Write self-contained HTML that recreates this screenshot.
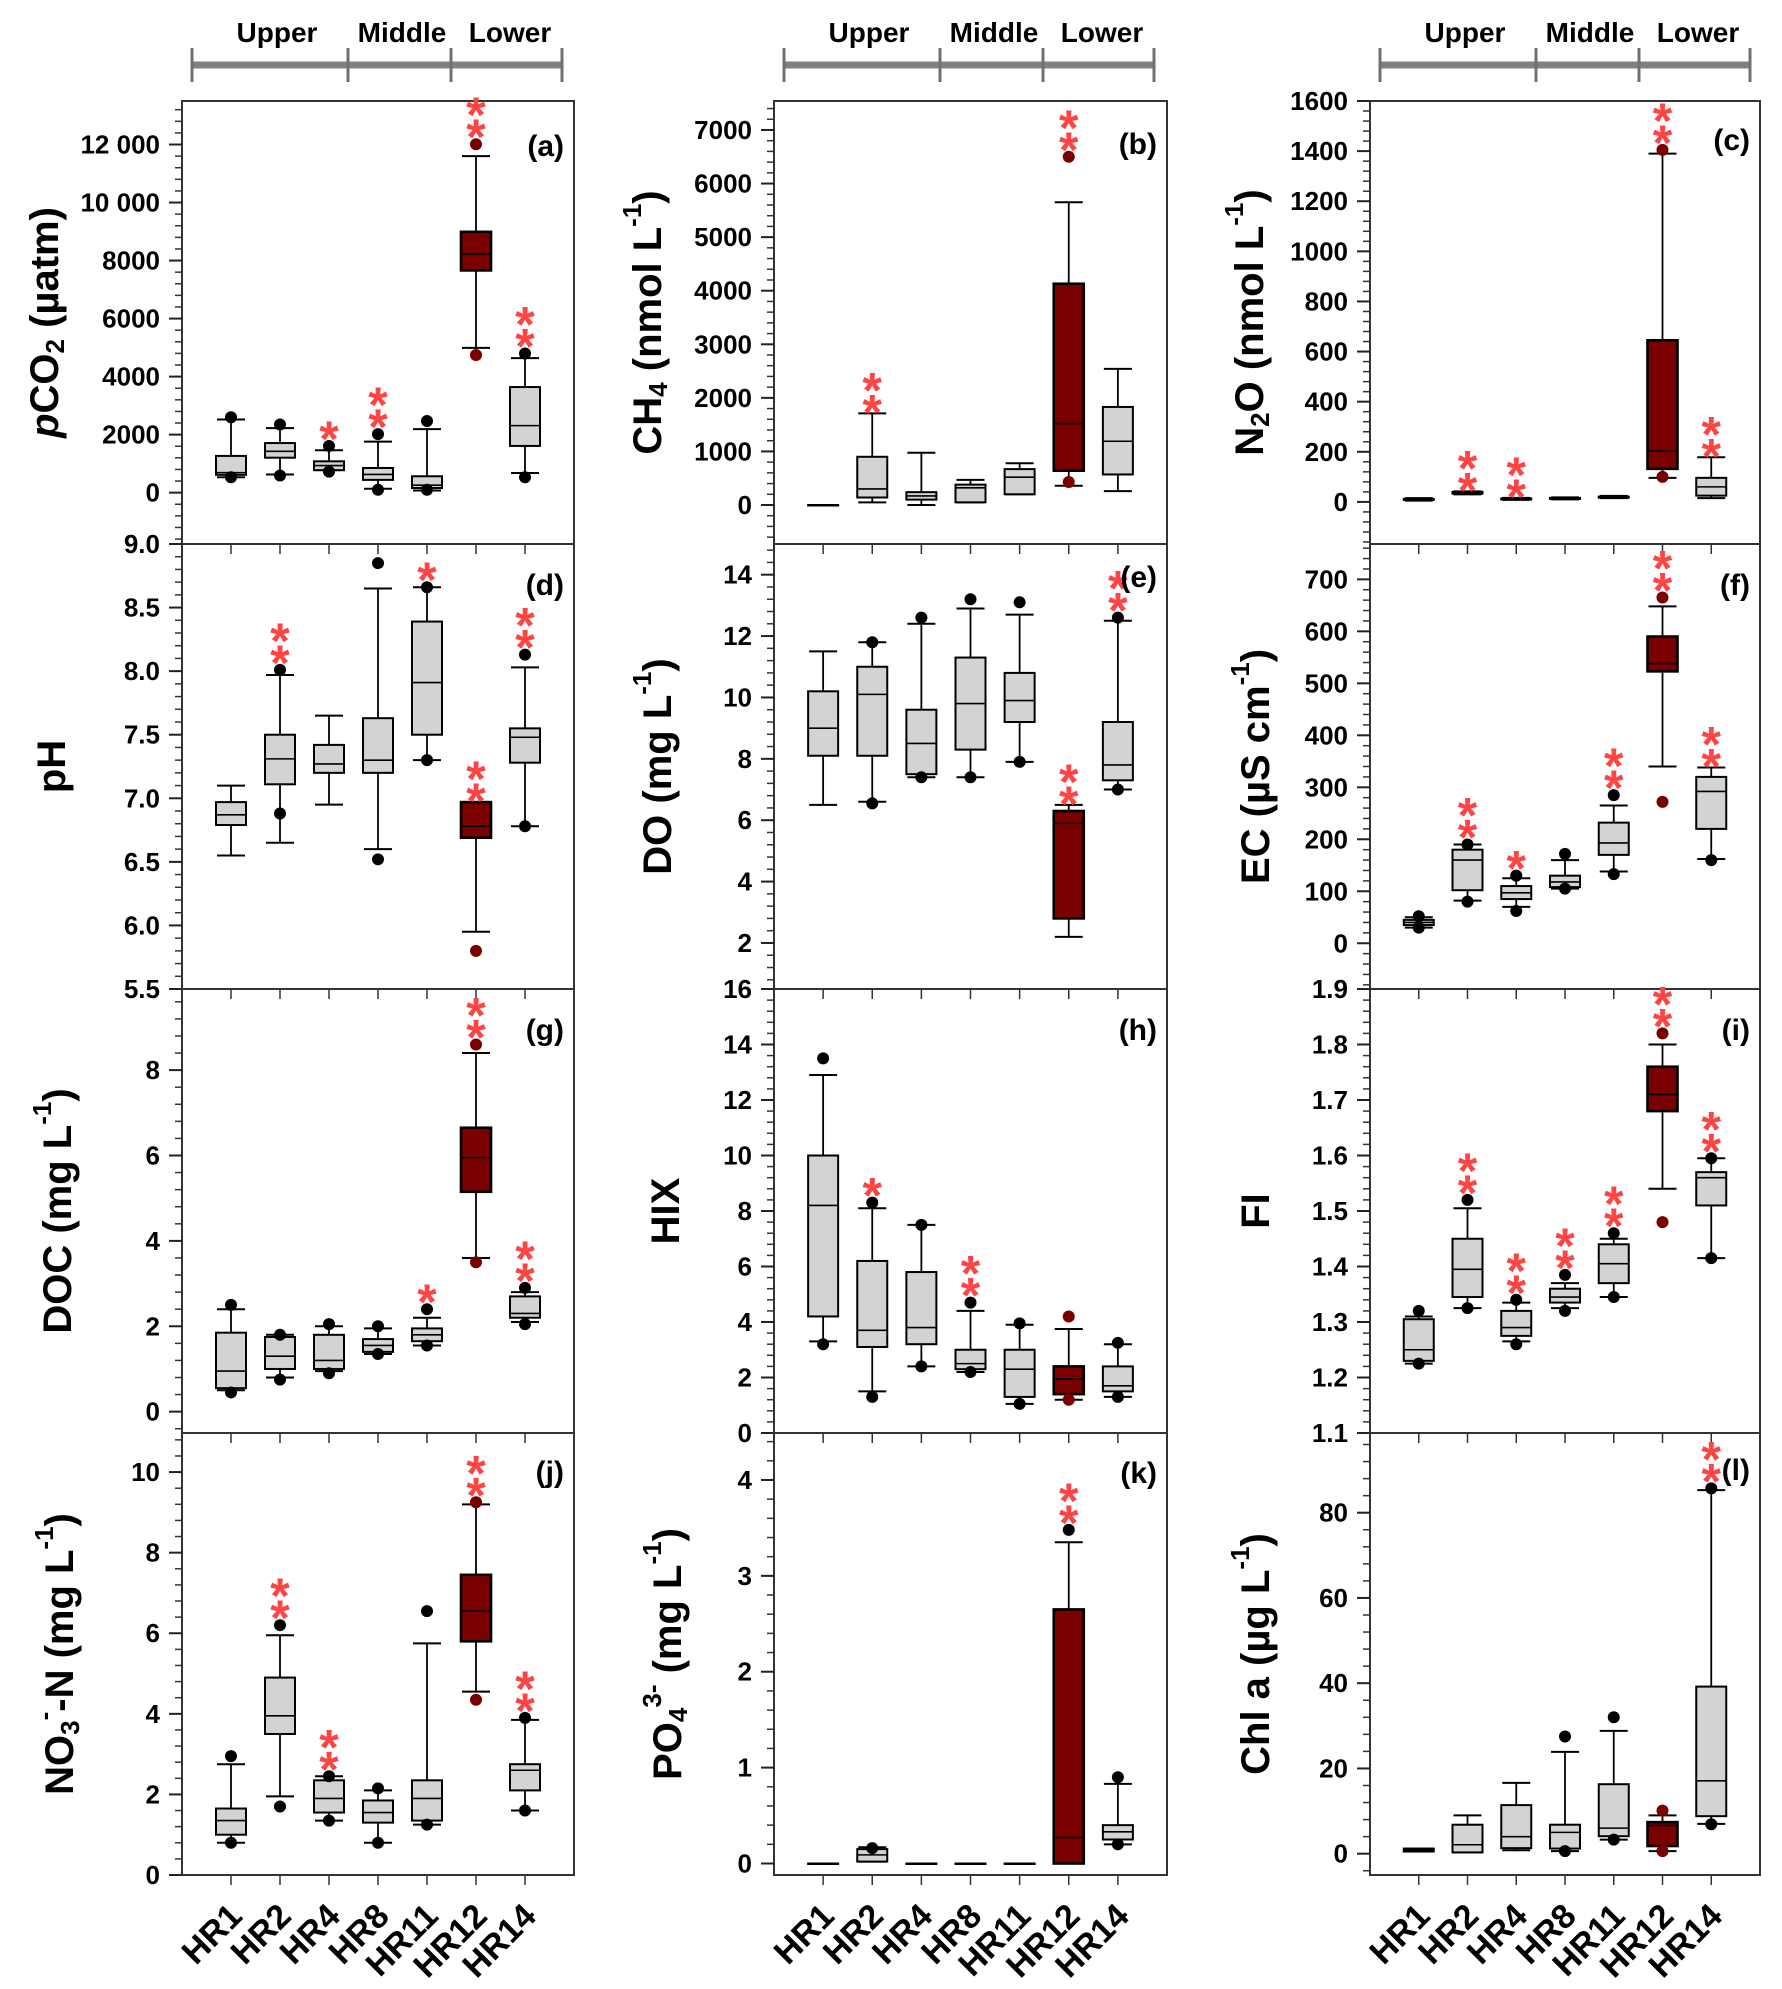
<!DOCTYPE html>
<html><head><meta charset="utf-8">
<style>
html,body{margin:0;padding:0;background:#fff;}
svg{display:block;font-family:"Liberation Sans",Arial,sans-serif;}
</style></head>
<body>
<svg id="fig" width="1782" height="1989" viewBox="0 0 1782 1989" xmlns="http://www.w3.org/2000/svg"></svg>
<script>
// ---------- categories ----------
const categories = ["HR1","HR2","HR4","HR8","HR11","HR12","HR14"];
// box stats per site: [whiskerLow, q1, median, q3, whiskerHigh]
const pco2Box = [[530,615,690,1266,2520],[627,1205,1426,1710,2225],[775,775,935,1080,1463],[135,440,627,850,1760],[74,160,258,565,2190],[4990,7660,8225,8990,11600],[676,1610,2310,3640,4635]];
const pco2Dots = [[2600,530],[2350,590],[1610,725],[2016,100],[2470,100],[12010,4745],[4795,530]];
const pco2Stars = [0,0,1,2,0,2,2];
const ch4Box = [[0,0,0,0,0],[50,140,300,900,1710],[0,100,170,240,975],[50,50,320,380,470],[200,200,520,670,780],[360,640,1520,4130,5650],[260,570,1190,1830,2540]];
const ch4Dots = [[],[],[],[],[],[6500,430],[]];
const ch4Stars = [0,2,0,0,0,2,0];
const n2oBox = [[5,8,10,12,15],[30,33,36,40,42],[8,10,12,14,16],[10,12,14,16,18],[15,17,19,21,24],[96,132,203,645,1390],[15,25,60,96,178]];
const n2oDots = [[],[],[],[],[],[1405,100],[]];
const n2oStars = [0,2,2,0,0,2,2];
const phBox = [[6.55,6.79,6.87,6.97,7.10],[6.65,7.11,7.31,7.50,7.97],[6.95,7.20,7.27,7.42,7.65],[6.60,7.20,7.30,7.63,8.65],[7.30,7.50,7.91,8.39,8.66],[5.95,6.69,6.78,6.97,6.97],[6.78,7.28,7.48,7.55,8.03]];
const phDots = [[],[8.01,6.88],[],[8.85,6.52],[8.66,7.30],[5.80],[8.13,6.78]];
const phStars = [0,2,0,0,1,2,2];
const doBox = [[6.5,8.1,9.0,10.2,11.5],[6.6,8.1,10.1,11.0,11.8],[7.4,7.5,8.5,9.6,12.4],[7.4,8.3,9.8,11.3,12.9],[7.9,9.2,9.9,10.8,12.7],[2.2,2.8,5.9,6.3,6.5],[7.0,7.3,7.8,9.2,12.5]];
const doDots = [[],[11.8,6.55],[12.6,7.4],[13.2,7.4],[13.1,7.9],[],[12.6,7.0]];
const doStars = [0,0,0,0,0,2,2];
const ecBox = [[30,35,40,45,50],[82,102,160,180,190],[70,85,97,110,125],[105,108,118,130,160],[138,170,193,232,265],[340,523,538,590,648],[162,220,292,320,338]];
const ecDots = [[52,30],[190,80],[130,62],[172,105],[285,133],[665,272],[160]];
const ecStars = [0,2,1,0,2,2,2];
const docBox = [[0.5,0.55,0.95,1.85,2.4],[0.8,1.0,1.3,1.75,1.8],[0.95,1.0,1.2,1.8,2.0],[1.35,1.4,1.55,1.7,1.95],[1.55,1.65,1.8,1.95,2.2],[3.6,5.15,5.95,6.65,8.4],[2.1,2.2,2.3,2.7,2.8]];
const docDots = [[2.5,0.45],[1.8,0.75],[2.05,0.9],[2.0,1.35],[2.4,1.55],[8.6,3.5],[2.9,2.05]];
const docStars = [0,0,0,0,1,2,2];
const hixBox = [[3.3,4.2,8.2,10.0,12.9],[1.5,3.1,3.7,6.2,8.1],[2.4,3.2,3.8,5.8,7.5],[2.2,2.3,2.5,3.0,4.4],[1.05,1.3,2.3,3.0,3.9],[1.2,1.4,1.95,2.4,3.75],[1.3,1.5,1.7,2.4,3.2]];
const hixDots = [[13.5,3.2],[8.3,1.3],[7.5,2.4],[4.7,2.2],[3.95,1.05],[4.2,1.2],[3.25,1.3]];
const hixStars = [0,1,0,2,0,0,0];
const fiBox = [[1.225,1.23,1.25,1.305,1.31],[1.325,1.345,1.395,1.45,1.505],[1.265,1.275,1.29,1.32,1.335],[1.325,1.335,1.345,1.36,1.37],[1.345,1.37,1.405,1.44,1.45],[1.54,1.68,1.71,1.76,1.80],[1.415,1.51,1.56,1.57,1.595]];
const fiDots = [[1.32,1.225],[1.52,1.325],[1.34,1.26],[1.385,1.32],[1.46,1.345],[1.82,1.48],[1.595,1.415]];
const fiStars = [0,2,2,2,2,2,2];
const no3Box = [[0.8,1.0,1.35,1.65,2.75],[1.95,3.5,3.95,4.9,5.95],[1.35,1.55,1.9,2.35,2.45],[0.8,1.3,1.55,1.85,2.1],[1.25,1.35,1.9,2.35,5.75],[4.55,5.8,6.55,7.45,9.2],[1.6,2.1,2.6,2.75,3.85]];
const no3Dots = [[2.95,0.8],[6.2,1.7],[2.45,1.35],[2.15,0.8],[6.55,1.25],[9.25,4.35],[3.9,1.6]];
const no3Stars = [0,2,2,0,0,2,2];
const po4Box = [[0,0,0,0,0],[0.02,0.02,0.09,0.15,0.17],[0,0,0,0,0],[0,0,0,0,0],[0,0,0,0,0],[0,0,0.27,2.65,3.35],[0.2,0.25,0.33,0.4,0.83]];
const po4Dots = [[],[0.16],[],[],[],[3.48],[0.9,0.2]];
const po4Stars = [0,0,0,0,0,2,0];
const chlBox = [[0.5,0.5,0.8,1.2,1.2],[0.3,0.3,2.1,6.8,9.0],[0.8,1.3,4.0,11.4,16.6],[0.6,1.2,5.0,6.8,23.9],[3.3,4.1,6.0,16.3,28.8],[0.6,1.8,6.6,7.4,9.0],[7.0,8.8,17.1,39.2,85.3]];
const chlDots = [[],[],[],[27.5,0.6],[32.0,3.3],[10.1,0.6],[85.7,6.9]];
const chlStars = [0,0,0,0,0,0,2];
// ---------- tick label arrays ----------
const pco2Ticks = [0,2000,4000,6000,8000,10000,12000];
const ch4Ticks = [0,1000,2000,3000,4000,5000,6000,7000];
const n2oTicks = [0,200,400,600,800,1000,1200,1400,1600];
const phTicks = [5.5,6.0,6.5,7.0,7.5,8.0,8.5,9.0];
const doTicks = [2,4,6,8,10,12,14];
const ecTicks = [0,100,200,300,400,500,600,700];
const docTicks = [0,2,4,6,8];
const hixTicks = [0,2,4,6,8,10,12,14,16];
const fiTicks = [1.1,1.2,1.3,1.4,1.5,1.6,1.7,1.8,1.9];
const no3Ticks = [0,2,4,6,8,10];
const po4Ticks = [0,1,2,3,4];
const chlTicks = [0,20,40,60,80];

const NS = "http://www.w3.org/2000/svg";
const svg = document.getElementById('fig');
const colX = [[182,574],[774,1167],[1370,1760]];
const rowY = [101,544,989,1433,1875];
const GREY = "#d3d3d3", DARK = "#7a0000", RED = "#ff4444";

function mk(tag, attrs, parent){
  const e = document.createElementNS(NS, tag);
  for (const k in attrs) e.setAttribute(k, attrs[k]);
  (parent||svg).appendChild(e);
  return e;
}

const panels = [
 {id:"pco2",c:0,r:0,box:pco2Box,dots:pco2Dots,stars:pco2Stars,ticks:pco2Ticks,dom:[-1770,13500],minor:400,lab:"(a)",ly:44,fmt:v=>v>=10000?(Math.floor(v/1000)+" 000"):String(v),
  title:[["p","italic"],["CO"],["2","sub"],[" (µatm)"]],tx:45},
 {id:"ch4",c:1,r:0,box:ch4Box,dots:ch4Dots,stars:ch4Stars,ticks:ch4Ticks,dom:[-728,7541],minor:200,lab:"(b)",ly:42,fmt:String,
  title:[["CH"],["4","sub"],[" (nmol L"],["-1","sup"],[")"]],tx:648},
 {id:"n2o",c:2,r:0,box:n2oBox,dots:n2oDots,stars:n2oStars,ticks:n2oTicks,dom:[-168,1600],minor:40,lab:"(c)",ly:38,fmt:String,
  title:[["N"],["2","sub"],["O (nmol L"],["-1","sup"],[")"]],tx:1250},
 {id:"ph",c:0,r:1,box:phBox,dots:phDots,stars:phStars,ticks:phTicks,dom:[5.5,9.0],minor:0.1,lab:"(d)",ly:40,fmt:v=>v.toFixed(1),
  title:[["pH"]],tx:52},
 {id:"do",c:1,r:1,box:doBox,dots:doDots,stars:doStars,ticks:doTicks,dom:[0.5,15.0],minor:0.4,lab:"(e)",ly:32,fmt:String,
  title:[["DO (mg L"],["-1","sup"],[")"]],tx:658},
 {id:"ec",c:2,r:1,box:ecBox,dots:ecDots,stars:ecStars,ticks:ecTicks,dom:[-88,768],minor:20,lab:"(f)",ly:40,fmt:String,
  title:[["EC (µS cm"],["-1","sup"],[")"]],tx:1256},
 {id:"doc",c:0,r:2,box:docBox,dots:docDots,stars:docStars,ticks:docTicks,dom:[-0.5,9.9],minor:0.4,lab:"(g)",ly:40,fmt:String,
  title:[["DOC (mg L"],["-1","sup"],[")"]],tx:58},
 {id:"hix",c:1,r:2,box:hixBox,dots:hixDots,stars:hixStars,ticks:hixTicks,dom:[0,16],minor:0.4,lab:"(h)",ly:40,fmt:String,
  title:[["HIX"]],tx:666},
 {id:"fi",c:2,r:2,box:fiBox,dots:fiDots,stars:fiStars,ticks:fiTicks,dom:[1.1,1.9],minor:0.02,lab:"(i)",ly:40,fmt:v=>v.toFixed(1),
  title:[["FI"]],tx:1256},
 {id:"no3",c:0,r:3,box:no3Box,dots:no3Dots,stars:no3Stars,ticks:no3Ticks,dom:[0,10.97],minor:0.4,lab:"(j)",ly:38,fmt:String,
  title:[["NO"],["3","sub"],["-","supx"],["-N (mg L"],["-1","sup"],[")"]],tx:60},
 {id:"po4",c:1,r:3,box:po4Box,dots:po4Dots,stars:po4Stars,ticks:po4Ticks,dom:[-0.12,4.49],minor:0.2,lab:"(k)",ly:39,fmt:String,
  title:[["PO"],["4","sub"],["3-","supx"],[" (mg L"],["-1","sup"],[")"]],tx:668},
 {id:"chl",c:2,r:3,box:chlBox,dots:chlDots,stars:chlStars,ticks:chlTicks,dom:[-5,98.7],minor:4,lab:"(l)",ly:36,fmt:String,
  title:[["Chl a (µg L"],["-1","sup"],[")"]],tx:1256}
];

panels.forEach(p => {
  const L = colX[p.c][0], R = colX[p.c][1];
  const T = rowY[p.r], B = rowY[p.r+1];
  const W = R - L;
  const y = v => B - (v - p.dom[0]) / (p.dom[1] - p.dom[0]) * (B - T);
  const x = i => L + (i + 1) * W / 8;
  const g = mk('g', {});
  
  

  const frame = mk('rect', {x:L, y:T, width:W, height:B-T, fill:'none', stroke:'#333', 'stroke-width':2}, g);
  
  

  const n0 = Math.ceil(p.dom[0] / p.minor - 1e-6), n1 = Math.floor(p.dom[1] / p.minor + 1e-6);
  for (let k = n0; k <= n1; k++) {
    const v = k * p.minor;
    const t = mk('line', {x1:L-7, x2:L, y1:y(v), y2:y(v), stroke:'#333', 'stroke-width':1.5}, g);
    
    
  }
  p.ticks.forEach(v => {
    const t = mk('line', {x1:L-13, x2:L, y1:y(v), y2:y(v), stroke:'#222', 'stroke-width':2}, g);
    
    
    const tx = mk('text', {x:L-22, y:y(v)+9, 'text-anchor':'end', 'font-size':26, 'font-weight':'bold', fill:'#000'}, g);
    tx.textContent = p.fmt(v);
    
    
  });
  categories.forEach((c, i) => {
    const t = mk('line', {x1:x(i), x2:x(i), y1:B, y2:B+10, stroke:'#333', 'stroke-width':1.5}, g);
    
    
  });

  p.box.forEach((b, i) => {
    const cx = x(i);
    const isDark = categories[i] === "HR12";
    const bg = mk('g', {}, g);
    
    
    mk('line', {x1:cx, x2:cx, y1:y(b[0]), y2:y(b[4]), stroke:'#000', 'stroke-width':1.8}, bg);
    mk('line', {x1:cx-14, x2:cx+14, y1:y(b[4]), y2:y(b[4]), stroke:'#000', 'stroke-width':2}, bg);
    mk('line', {x1:cx-14, x2:cx+14, y1:y(b[0]), y2:y(b[0]), stroke:'#000', 'stroke-width':2}, bg);
    const r = mk('rect', {x:cx-15, y:y(b[3]), width:30, height:Math.max(0.5, y(b[1]) - y(b[3])), fill:isDark?DARK:GREY, stroke:'#000', 'stroke-width':isDark?2.6:2}, bg);
    
    
    mk('line', {x1:cx-15, x2:cx+15, y1:y(b[2]), y2:y(b[2]), stroke:'#000', 'stroke-width':1.6}, bg);
    let topY = y(b[4]);
    p.dots[i].forEach(v => {
      const d = mk('circle', {cx:cx, cy:y(v), r:6, fill:(isDark && p.id !== 'po4') ? DARK : '#000'}, bg);
      
      
      topY = Math.min(topY, y(v) - 6);
    });
    for (let s = 0; s < p.stars[i]; s++) {
      const st = mk('text', {x:cx, y:topY + 16 - s*22, 'text-anchor':'middle', 'font-size':50, 'font-weight':'bold', fill:RED}, bg);
      st.textContent = '*';
      
      
    }
  });

  const pl = mk('text', {x:R-10, y:T+p.ly+11, 'text-anchor':'end', 'font-size':30, 'font-weight':'bold', fill:'#000'}, g);
  pl.textContent = p.lab;
  
  

  const cy = (T + B) / 2;
  const tt = mk('text', {transform:`translate(${p.tx},${cy}) rotate(-90)`, 'text-anchor':'middle', 'dominant-baseline':'central', 'font-size':40, 'font-weight':'bold', fill:'#000'}, g);
  
  
  let offset = 0;
  p.title.forEach(part => {
    const ts = document.createElementNS(NS, 'tspan');
    ts.textContent = part[0];
    let target = 0;
    if (part[1] === 'italic') ts.setAttribute('font-style', 'italic');
    if (part[1] === 'sub') { ts.setAttribute('font-size', 26); target = 10; }
    if (part[1] === 'sup' || part[1] === 'supx') { ts.setAttribute('font-size', 26); target = -16; }
    ts.setAttribute('dy', target - offset);
    offset = target;
    tt.appendChild(ts);
  });

  if (p.r === 3) {
    categories.forEach((c, i) => {
      const xl = mk('text', {transform:`translate(${x(i)-4},${B+26}) rotate(-45)`, 'text-anchor':'end', 'font-size':34, 'font-weight':'bold', fill:'#000', 'dominant-baseline':'hanging'}, g);
      xl.textContent = c;
      
      
    });
  }
  if (p.r === 0) {
    const bar = mk('g', {}, g);
    
    
    const bx = [L+10, L+166, L+269, L+380];
    mk('line', {x1:bx[0], x2:bx[3], y1:65, y2:65, stroke:'#808080', 'stroke-width':7}, bar);
    bx.forEach(v => mk('line', {x1:v, x2:v, y1:48, y2:82, stroke:'#707070', 'stroke-width':3}, bar));
    const names = ["Upper","Middle","Lower"];
    const cxs = [L+95, L+220, L+328];
    names.forEach((n, k) => {
      const t = mk('text', {x:cxs[k], y:42, 'text-anchor':'middle', 'font-size':28, 'font-weight':'bold', fill:'#000'}, bar);
      t.textContent = n;
      
      
    });
  }
});
</script>
</body></html>
